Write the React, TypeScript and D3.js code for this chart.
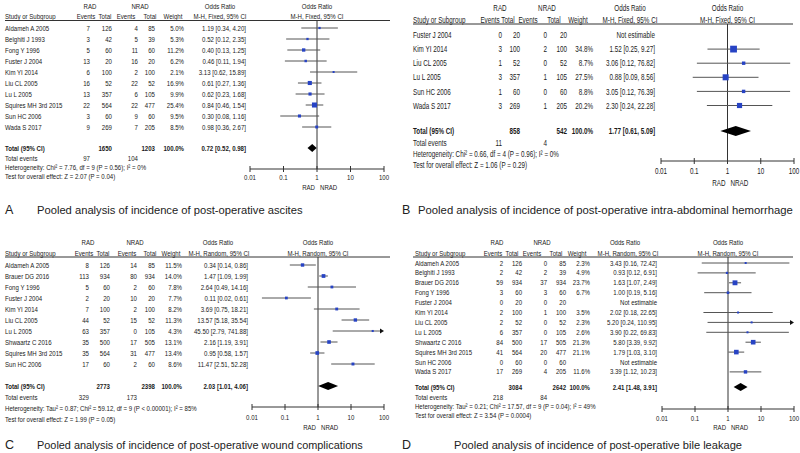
import React from "react";
import * as d3 from "d3";

// ---------- Panel A: ascites ----------
const aStudies = ["Aldameh A 2005", "Belghiti J 1993", "Fong Y 1996", "Fuster J 2004", "Kim YI 2014", "Liu CL 2005", "Lu L 2005", "Squires MH 3rd 2015", "Sun HC 2006", "Wada S 2017"];
const aRadEvents = [7, 3, 5, 13, 6, 16, 13, 22, 3, 9];
const aRadTotals = [126, 42, 60, 20, 100, 52, 357, 564, 60, 269];
const aNradEvents = [4, 5, 11, 16, 2, 22, 6, 22, 9, 7];
const aNradTotals = [85, 39, 60, 20, 100, 52, 105, 477, 60, 205];
const aWeights = [5.0, 5.3, 11.2, 6.2, 2.1, 16.9, 9.9, 25.4, 9.5, 8.5];
const aOR = [1.19, 0.52, 0.4, 0.46, 3.13, 0.61, 0.62, 0.84, 0.3, 0.98];
const aLower = [0.34, 0.12, 0.13, 0.11, 0.62, 0.27, 0.23, 0.46, 0.08, 0.36];
const aUpper = [4.2, 2.35, 1.25, 1.94, 15.89, 1.36, 1.68, 1.54, 1.16, 2.67];
const aTotals = [1650, 1203];
const aTotalEvents = [97, 104];
const aPooled = [0.72, 0.52, 0.98];

// ---------- Panel B: intra-abdominal hemorrhage ----------
const bStudies = ["Fuster J 2004", "Kim YI 2014", "Liu CL 2005", "Lu L 2005", "Sun HC 2006", "Wada S 2017"];
const bRadEvents = [0, 3, 1, 3, 1, 3];
const bRadTotals = [20, 100, 52, 357, 60, 269];
const bNradEvents = [0, 2, 0, 1, 0, 1];
const bNradTotals = [20, 100, 52, 105, 60, 205];
const bWeights = [null, 34.8, 8.7, 27.5, 8.8, 20.2];
const bOR = [null, 1.52, 3.06, 0.88, 3.05, 2.3];
const bLower = [null, 0.25, 0.12, 0.09, 0.12, 0.24];
const bUpper = [null, 9.27, 76.82, 8.56, 76.39, 22.28];
const bTotals = [858, 542];
const bTotalEvents = [11, 4];
const bPooled = [1.77, 0.61, 5.09];

// ---------- Panel C: wound complications ----------
const cStudies = ["Aldameh A 2005", "Brauer DG 2016", "Fong Y 1996", "Fuster J 2004", "Kim YI 2014", "Liu CL 2005", "Lu L 2005", "Shwaartz C 2016", "Squires MH 3rd 2015", "Sun HC 2006"];
const cRadEvents = [8, 113, 5, 2, 7, 44, 63, 35, 35, 17];
const cRadTotals = [126, 934, 60, 20, 100, 52, 357, 500, 564, 60];
const cNradEvents = [14, 80, 2, 10, 2, 15, 0, 17, 31, 2];
const cNradTotals = [85, 934, 60, 20, 100, 52, 105, 505, 477, 60];
const cWeights = [11.5, 14.0, 7.8, 7.7, 8.2, 11.3, 4.3, 13.1, 13.4, 8.6];
const cOR = [0.34, 1.47, 2.64, 0.11, 3.69, 13.57, 45.5, 2.16, 0.95, 11.47];
const cLower = [0.14, 1.09, 0.49, 0.02, 0.75, 5.18, 2.79, 1.19, 0.58, 2.51];
const cUpper = [0.86, 1.99, 14.16, 0.61, 18.21, 35.54, 741.88, 3.91, 1.57, 52.28];
const cTotals = [2773, 2398];
const cTotalEvents = [329, 173];
const cPooled = [2.03, 1.01, 4.06];

// ---------- Panel D: bile leakage ----------
const dStudies = ["Aldameh A 2005", "Belghiti J 1993", "Brauer DG 2016", "Fong Y 1996", "Fuster J 2004", "Kim YI 2014", "Liu CL 2005", "Lu L 2005", "Shwaartz C 2016", "Squires MH 3rd 2015", "Sun HC 2006", "Wada S 2017"];
const dRadEvents = [2, 2, 59, 3, 0, 2, 2, 6, 84, 41, 0, 17];
const dRadTotals = [126, 42, 934, 60, 20, 100, 52, 357, 500, 564, 60, 269];
const dNradEvents = [0, 2, 37, 3, 0, 1, 0, 0, 17, 20, 0, 4];
const dNradTotals = [85, 39, 934, 60, 20, 100, 52, 105, 505, 477, 60, 205];
const dWeights = [2.3, 4.9, 23.7, 6.7, null, 3.5, 2.3, 2.6, 21.3, 21.1, null, 11.6];
const dOR = [3.43, 0.93, 1.63, 1.0, null, 2.02, 5.2, 3.9, 5.8, 1.79, null, 3.39];
const dLower = [0.16, 0.12, 1.07, 0.19, null, 0.18, 0.24, 0.22, 3.39, 1.03, null, 1.12];
const dUpper = [72.42, 6.91, 2.49, 5.16, null, 22.65, 110.95, 69.83, 9.92, 3.1, null, 10.23];
const dTotals = [3084, 2642];
const dTotalEvents = [218, 84];
const dPooled = [2.41, 1.48, 3.91];

const axisTicks = [0.01, 0.1, 1, 10, 100];
const axisTickLabels = ["0.01", "0.1", "1", "10", "100"];

type PanelData = {
  studies: string[];
  radEv: number[];
  radTot: number[];
  nradEv: number[];
  nradTot: number[];
  weight: (number | null)[];
  or: (number | null)[];
  lo: (number | null)[];
  hi: (number | null)[];
  totals: number[];
  totalEvents: number[];
  pooled: number[];
  method: string;
  het: string;
  test: string;
  letter: string;
  caption: string;
};

const panels: PanelData[] = [
  { studies: aStudies, radEv: aRadEvents, radTot: aRadTotals, nradEv: aNradEvents, nradTot: aNradTotals, weight: aWeights, or: aOR, lo: aLower, hi: aUpper, totals: aTotals, totalEvents: aTotalEvents, pooled: aPooled, method: "M-H, Fixed, 95% CI", het: "Heterogeneity: Chi\u00b2 = 7.76, df = 9 (P = 0.56); I\u00b2 = 0%", test: "Test for overall effect: Z = 2.07 (P = 0.04)", letter: "A", caption: "Pooled analysis of incidence of post-operative ascites" },
  { studies: bStudies, radEv: bRadEvents, radTot: bRadTotals, nradEv: bNradEvents, nradTot: bNradTotals, weight: bWeights, or: bOR, lo: bLower, hi: bUpper, totals: bTotals, totalEvents: bTotalEvents, pooled: bPooled, method: "M-H, Fixed, 95% CI", het: "Heterogeneity: Chi\u00b2 = 0.66, df = 4 (P = 0.96); I\u00b2 = 0%", test: "Test for overall effect: Z = 1.06 (P = 0.29)", letter: "B", caption: "Pooled analysis of incidence of post-operative intra-abdominal hemorrhage" },
  { studies: cStudies, radEv: cRadEvents, radTot: cRadTotals, nradEv: cNradEvents, nradTot: cNradTotals, weight: cWeights, or: cOR, lo: cLower, hi: cUpper, totals: cTotals, totalEvents: cTotalEvents, pooled: cPooled, method: "M-H, Random, 95% CI", het: "Heterogeneity: Tau\u00b2 = 0.87; Chi\u00b2 = 59.12, df = 9 (P < 0.00001); I\u00b2 = 85%", test: "Test for overall effect: Z = 1.99 (P = 0.05)", letter: "C", caption: "Pooled analysis of incidence of post-operative wound complications" },
  { studies: dStudies, radEv: dRadEvents, radTot: dRadTotals, nradEv: dNradEvents, nradTot: dNradTotals, weight: dWeights, or: dOR, lo: dLower, hi: dUpper, totals: dTotals, totalEvents: dTotalEvents, pooled: dPooled, method: "M-H, Random, 95% CI", het: "Heterogeneity: Tau\u00b2 = 0.21; Chi\u00b2 = 17.57, df = 9 (P = 0.04); I\u00b2 = 49%", test: "Test for overall effect: Z = 3.54 (P = 0.0004)", letter: "D", caption: "Pooled analysis of incidence of post-operative bile leakage" },
];

type Layout = {
  sx: number; fs: number; fx: number; hdr1: number; hdr2: number; lineY: number; lineX: [number, number];
  row0: number; rowH: number; totalY: number; eventsY: number; hetY: number; testY: number;
  axisY: number; tickY: number; radY: number; capY: number; capLetterX: number; capTextX: number; capFs: number;
  c: { radEv: number; radTot: number; nradEv: number; nradTot: number; weight: number; ci: number };
  h: { rad: number; nrad: number; or: number; ev1: number; tot1: number; ev2: number; tot2: number; w: number; mh: number };
  plot: [number, number]; sq: number; dH: number;
};

const layouts: Layout[] = [
  {
    sx: 5, fs: 7.8, fx: 0.78, hdr1: 6, hdr2: 16.5, lineY: 20.5, lineX: [5, 390], row0: 28, rowH: 11, totalY: 148, eventsY: 158, hetY: 167, testY: 176,
    axisY: 169, tickY: 177, radY: 187, capY: 210, capLetterX: 5, capTextX: 37, capFs: 11.2,
    c: { radEv: 90, radTot: 112, nradEv: 138, nradTot: 155, weight: 184, ci: 246 },
    h: { rad: 90, nrad: 140, or: 220, ev1: 86, tot1: 105, ev2: 126, tot2: 150, w: 173, mh: 220 },
    plot: [250, 384], sq: 1.0, dH: 8,
  },
  {
    sx: 413, fs: 9, fx: 0.7, hdr1: 8, hdr2: 20, lineY: 24, lineX: [413, 793], row0: 35, rowH: 14.1, totalY: 131, eventsY: 143, hetY: 154, testY: 165,
    axisY: 161, tickY: 171, radY: 183, capY: 210, capLetterX: 402, capTextX: 418, capFs: 11.3,
    c: { radEv: 502, radTot: 520, nradEv: 547, nradTot: 567, weight: 593, ci: 655 },
    h: { rad: 500, nrad: 547, or: 630, ev1: 490, tot1: 508, ev2: 528, tot2: 554, w: 578, mh: 630 },
    plot: [661, 794], sq: 1.15, dH: 10,
  },
  {
    sx: 5, fs: 7.8, fx: 0.78, hdr1: 242, hdr2: 253.5, lineY: 257, lineX: [5, 390], row0: 265, rowH: 11, totalY: 386, eventsY: 397, hetY: 408, testY: 419,
    axisY: 407, tickY: 417, radY: 427, capY: 445, capLetterX: 5, capTextX: 37, capFs: 10.9,
    c: { radEv: 89, radTot: 110, nradEv: 137, nradTot: 155, weight: 182, ci: 248 },
    h: { rad: 88, nrad: 135, or: 218, ev1: 84, tot1: 103, ev2: 127, tot2: 150, w: 171, mh: 219 },
    plot: [252, 384], sq: 1.0, dH: 8,
  },
  {
    sx: 415, fs: 7.3, fx: 0.83, hdr1: 242, hdr2: 253.5, lineY: 257, lineX: [413, 793], row0: 263, rowH: 9.9, totalY: 387, eventsY: 397, hetY: 406, testY: 415,
    axisY: 409, tickY: 418, radY: 427, capY: 445, capLetterX: 402, capTextX: 454, capFs: 11.1,
    c: { radEv: 503, radTot: 522, nradEv: 547, nradTot: 566, weight: 590, ci: 657 },
    h: { rad: 497, nrad: 542, or: 625, ev1: 493, tot1: 512, ev2: 532, tot2: 556, w: 577, mh: 628 },
    plot: [662, 794], sq: 1.0, dH: 8,
  },
];

const FONT = "'Liberation Sans', Arial, sans-serif";
const TXT = "#1a1a1a";
const BLUE = "#2743c4";

const fmt2 = (v: number) => v.toFixed(2);

function Forest({ d, L }: { d: PanelData; L: Layout }) {
  const x = d3.scaleLog().domain([0.01, 100]).range(L.plot);
  const x1 = x(1);
  const ys = d.studies.map((_, i) => L.row0 + i * L.rowH);
  const T = ({ x: tx, y: ty, a, b, s, children }: { x: number; y: number; a?: string; b?: boolean; s?: number; children: any }) => (
    <text
      transform={`translate(${tx},${ty}) scale(${L.fx},1)`}
      dy="0.35em"
      textAnchor={a || "start"}
      fontFamily={FONT}
      fontSize={s || L.fs}
      fontWeight={b ? "bold" : "normal"}
      fill={TXT}
    >
      {children}
    </text>
  );
  const [pOR, pLo, pHi] = d.pooled;
  const dx0 = x(pLo), dx1 = x(pHi), dxm = x(pOR);
  return (
    <g>
      {/* headers */}
      <T x={L.h.rad} y={L.hdr1} a="middle">RAD</T>
      <T x={L.h.nrad} y={L.hdr1} a="middle">NRAD</T>
      <T x={L.h.or} y={L.hdr1} a="middle">Odds Ratio</T>
      <T x={x1} y={L.hdr1} a="middle">Odds Ratio</T>
      <T x={L.sx} y={L.hdr2}>Study or Subgroup</T>
      <T x={L.h.ev1} y={L.hdr2} a="middle">Events</T>
      <T x={L.h.tot1} y={L.hdr2} a="middle">Total</T>
      <T x={L.h.ev2} y={L.hdr2} a="middle">Events</T>
      <T x={L.h.tot2} y={L.hdr2} a="middle">Total</T>
      <T x={L.h.w} y={L.hdr2} a="middle">Weight</T>
      <T x={L.h.mh} y={L.hdr2} a="middle">{d.method}</T>
      <T x={x1} y={L.hdr2} a="middle">{d.method}</T>
      <line x1={L.lineX[0]} x2={L.lineX[1]} y1={L.lineY} y2={L.lineY} stroke="#333" strokeWidth={1} />

      {/* vertical line of no effect */}
      <line x1={x1} x2={x1} y1={L.lineY} y2={L.axisY} stroke="#333" strokeWidth={1} />

      {/* study rows */}
      {d.studies.map((s, i) => {
        const y = ys[i];
        const w = d.weight[i];
        const or = d.or[i];
        const lo = d.lo[i];
        const hi = d.hi[i];
        const est = or !== null && lo !== null && hi !== null;
        const size = w !== null ? Math.max(2, Math.sqrt(w) * L.sq) : 0;
        const clipHi = est && (hi as number) > 100;
        return (
          <g key={s}>
            <T x={L.sx} y={y}>{s}</T>
            <T x={L.c.radEv} y={y} a="end">{d.radEv[i]}</T>
            <T x={L.c.radTot} y={y} a="end">{d.radTot[i]}</T>
            <T x={L.c.nradEv} y={y} a="end">{d.nradEv[i]}</T>
            <T x={L.c.nradTot} y={y} a="end">{d.nradTot[i]}</T>
            {w !== null && <T x={L.c.weight} y={y} a="end">{`${w.toFixed(1)}%`}</T>}
            <T x={L.c.ci} y={y} a="end">
              {est ? `${fmt2(or as number)} [${fmt2(lo as number)}, ${fmt2(hi as number)}]` : "Not estimable"}
            </T>
            {est && (
              <g>
                <line x1={x(lo as number)} x2={clipHi ? x(100) - 3 : x(hi as number)} y1={y} y2={y} stroke="#555" strokeWidth={1} />
                {clipHi && <path d={`M${x(100) - 4},${y - 2.5}L${x(100)},${y}L${x(100) - 4},${y + 2.5}Z`} fill="#111" />}
                <rect x={x(or as number) - size / 2} y={y - size / 2} width={size} height={size} fill={BLUE} />
              </g>
            )}
          </g>
        );
      })}

      {/* totals */}
      <T x={L.sx} y={L.totalY} b>Total (95% CI)</T>
      <T x={L.c.radTot} y={L.totalY} a="end" b>{d.totals[0]}</T>
      <T x={L.c.nradTot} y={L.totalY} a="end" b>{d.totals[1]}</T>
      <T x={L.c.weight} y={L.totalY} a="end" b>100.0%</T>
      <T x={L.c.ci} y={L.totalY} a="end" b>{`${fmt2(pOR)} [${fmt2(pLo)}, ${fmt2(pHi)}]`}</T>
      <path d={`M${dx0},${L.totalY}L${dxm},${L.totalY - L.dH / 2}L${dx1},${L.totalY}L${dxm},${L.totalY + L.dH / 2}Z`} fill="#000" />

      <T x={L.sx} y={L.eventsY}>Total events</T>
      <T x={L.c.radEv} y={L.eventsY} a="end">{d.totalEvents[0]}</T>
      <T x={L.c.nradEv} y={L.eventsY} a="end">{d.totalEvents[1]}</T>
      <T x={L.sx} y={L.hetY}>{d.het}</T>
      <T x={L.sx} y={L.testY}>{d.test}</T>

      {/* axis */}
      <line x1={x(0.01)} x2={x(100)} y1={L.axisY} y2={L.axisY} stroke="#333" strokeWidth={1} />
      {axisTicks.map((t, i) => (
        <g key={t}>
          <line x1={x(t)} x2={x(t)} y1={L.axisY - 3} y2={L.axisY + 3} stroke="#333" strokeWidth={1} />
          <T x={x(t)} y={L.tickY} a="middle">{axisTickLabels[i]}</T>
        </g>
      ))}
      <T x={x1 - 2} y={L.radY} a="end">RAD</T>
      <T x={x1 + 3} y={L.radY}>NRAD</T>

      {/* caption */}
      <text x={L.capLetterX} y={L.capY} dy="0.35em" fontFamily={FONT} fontSize={12.5} fill="#222">{d.letter}</text>
      <text x={L.capTextX} y={L.capY} dy="0.35em" fontFamily={FONT} fontSize={L.capFs} fill="#222">{d.caption}</text>
    </g>
  );
}

export default function App() {
  return (
    <svg width={800} height={453} viewBox="0 0 800 453" style={{ position: "absolute", left: 0, top: 0, background: "#fff" }}>
      <rect x={0} y={0} width={800} height={453} fill="#fff" />
      {panels.map((p, i) => (
        <Forest key={p.letter} d={p} L={layouts[i]} />
      ))}
    </svg>
  );
}
